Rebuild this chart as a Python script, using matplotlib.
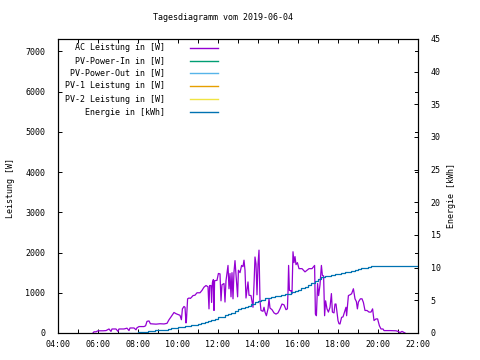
import numpy as np
import matplotlib
matplotlib.use("Agg")
import matplotlib.pyplot as plt
from matplotlib.ticker import MultipleLocator, FuncFormatter

# AC-Leistung (Stunde, Watt)
ac_time = [5.75, 5.80, 5.90, 6.00, 6.25, 6.40, 6.55, 6.65, 6.70, 6.90, 7.00, 7.05, 7.30, 7.45, 7.55, 7.60,
           7.80, 7.90, 7.95, 8.05, 8.30, 8.38, 8.45, 8.55, 8.62, 8.75, 8.90, 9.10, 9.30, 9.45, 9.55, 9.65,
           9.80, 9.90, 10.00, 10.10, 10.17, 10.22, 10.30, 10.35, 10.40, 10.42, 10.48, 10.55, 10.62, 10.68,
           10.75, 10.85, 10.95, 11.10, 11.20, 11.30, 11.40, 11.50, 11.55, 11.58, 11.65, 11.68, 11.72, 11.77,
           11.80, 11.83, 11.95, 12.02, 12.10, 12.15, 12.20, 12.30, 12.35, 12.40, 12.50, 12.55, 12.60, 12.65,
           12.70, 12.75, 12.80, 12.85, 12.90, 12.98, 13.02, 13.10, 13.18, 13.25, 13.30, 13.35, 13.40, 13.45,
           13.50, 13.55, 13.65, 13.75, 13.80, 13.85, 13.90, 13.95, 14.00, 14.05, 14.10, 14.15, 14.25, 14.30,
           14.35, 14.42, 14.50, 14.55, 14.60, 14.70, 14.80, 14.90, 15.00, 15.10, 15.20, 15.30, 15.40, 15.47,
           15.50, 15.53, 15.57, 15.65, 15.70, 15.75, 15.80, 15.85, 15.90, 15.97, 16.05, 16.20, 16.35, 16.45,
           16.55, 16.70, 16.83, 16.87, 16.92, 16.98, 17.03, 17.10, 17.17, 17.22, 17.28, 17.33, 17.38, 17.45,
           17.52, 17.60, 17.67, 17.72, 17.80, 17.85, 17.90, 18.00, 18.05, 18.10, 18.18, 18.25, 18.35, 18.40,
           18.43, 18.52, 18.60, 18.68, 18.77, 18.85, 18.92, 18.97, 19.02, 19.12, 19.20, 19.27, 19.35, 19.45,
           19.55, 19.65, 19.73, 19.80, 19.90, 19.98, 20.07, 20.15, 20.25, 20.30, 20.60, 20.90, 21.00, 21.10,
           21.20, 21.35]
ac_power = [0, 30, 30, 55, 55, 60, 100, 40, 100, 100, 40, 100, 100, 120, 60, 125,
            125, 80, 130, 160, 160, 180, 290, 300, 230, 225, 220, 230, 225, 240, 330, 400,
            510, 480, 460, 440, 330, 600, 660, 640, 250, 300, 850, 870, 860, 890,
            930, 940, 1000, 1000, 1060, 1140, 1180, 1150, 600, 1180, 1180, 760, 1250, 1330,
            560, 1300, 1310, 1480, 1470, 800, 1200, 1230, 770, 1300, 1680, 1100, 1480, 900,
            1500, 850, 1520, 1800, 1450, 900, 1560, 1500, 1680, 1650, 1810, 1560, 870, 1060,
            1270, 940, 930, 640, 1200, 1890, 1720, 950, 1700, 2060, 800, 560, 540, 640,
            520, 430, 600, 850, 620, 580, 500, 470, 500, 600, 720, 700, 580, 600,
            1020, 1680, 1060, 1050, 980, 2020, 1750, 1900, 1700, 1750, 1600, 1600, 1520, 1560,
            1600, 1600, 1680, 470, 430, 1230, 930, 1200, 1680, 1430, 1420, 430, 800, 600,
            520, 640, 980, 520, 500, 720, 720, 310, 230, 225, 390, 400, 560, 640,
            430, 930, 950, 975, 1100, 850, 780, 600, 770, 850, 850, 760, 560, 560,
            520, 520, 600, 310, 350, 350, 180, 100, 100, 60, 60, 55, 40, 10,
            40, 0]

# Energie (kWh), alle 10 Minuten ab 07:00
en_time = [7 + i / 6 for i in range(91)]
energy = [0.0, 0.0, 0.0, 0.0, 0.0, 0.0, 0.1, 0.2, 0.2, 0.3, 0.3, 0.4, 0.4, 0.5, 0.5, 0.6, 0.7, 0.8,
          0.9, 0.9, 1.0, 1.1, 1.2, 1.3, 1.4, 1.6, 1.7, 1.9, 2.0, 2.2, 2.4, 2.5, 2.7, 2.9, 3.1, 3.4,
          3.6, 3.8, 4.0, 4.2, 4.4, 4.7, 4.9, 5.1, 5.3, 5.4, 5.5, 5.6, 5.7, 5.8, 5.9, 6.0, 6.2, 6.4,
          6.6, 6.9, 7.1, 7.4, 7.7, 8.0, 8.3, 8.5, 8.7, 8.8, 8.9, 9.0, 9.1, 9.2, 9.3, 9.4, 9.5, 9.7,
          9.8, 9.9, 10.0, 10.1, 10.2, 10.3, 10.3, 10.3, 10.3, 10.3, 10.3, 10.3, 10.3, 10.3, 10.3,
          10.3, 10.3, 10.3, 10.3]

# keine Daten fuer diese Reihen
pv_in = []
pv_out = []
pv1 = []
pv2 = []

labels = ["AC Leistung in [W]", "PV-Power-In in [W]", "PV-Power-Out in [W]",
          "PV-1 Leistung in [W]", "PV-2 Leistung in [W]", "Energie in [kWh]"]
colors = ["#9400d3", "#009e73", "#56b4e9", "#e69f00", "#f0e442", "#0072b2"]

plt.rcParams['font.family'] = ['DejaVu Sans Mono']
fs = 6

fig = plt.figure(figsize=(4.8, 3.6), dpi=100)
ax = fig.add_axes([58 / 480, 1 - 333 / 360, 360 / 480, 294 / 360])
ax2 = ax.twinx()

lw = 0.9
ax.plot(ac_time, ac_power, color=colors[0], lw=lw)
ax.plot(pv_in, pv_in, color=colors[1], lw=lw)
ax.plot(pv_out, pv_out, color=colors[2], lw=lw)
ax.plot(pv1, pv1, color=colors[3], lw=lw)
ax.plot(pv2, pv2, color=colors[4], lw=lw)
ax2.plot(en_time, energy, color=colors[5], lw=lw, drawstyle='steps-post')

ax.set_xlim(4, 22)
ax.set_ylim(0, 7310)
ax2.set_ylim(0, 45)

ax.xaxis.set_major_locator(MultipleLocator(2))
ax.xaxis.set_minor_locator(MultipleLocator(1))
ax.xaxis.set_major_formatter(FuncFormatter(lambda v, p: "%02d:00" % int(round(v))))
ax.yaxis.set_major_locator(MultipleLocator(1000))
ax2.yaxis.set_major_locator(MultipleLocator(5))

ax.tick_params(axis='x', which='both', direction='in', top=True, length=3, width=0.7,
               labelsize=fs, pad=5)
ax.tick_params(axis='y', direction='in', length=3, width=0.7, labelsize=fs, pad=9)
ax2.tick_params(axis='y', direction='in', length=3, width=0.7, labelsize=fs, pad=9)
# y1 ticks mirrored on the right side
for y in ax.get_yticks():
    if 0 < y < 7310:
        ax.plot([1, 0.992], [y, y], color='black', lw=0.7, transform=ax.get_yaxis_transform(),
                clip_on=False)

for a in (ax, ax2):
    for s in a.spines.values():
        s.set_linewidth(0.8)

# legend (gnuplot style)
rows_y = [48, 61, 73, 86, 99, 112]
for lab, col, yp in zip(labels, colors, rows_y):
    ya = (333 - yp) / 294
    ax.text((165 - 58) / 360, ya, lab, transform=ax.transAxes, ha='right', va='center', fontsize=fs)
    ax.plot([(190 - 58) / 360, (218 - 58) / 360], [ya, ya], color=col, lw=1.0,
            transform=ax.transAxes)

fig.text(223 / 480, 1 - 18 / 360, "Tagesdiagramm vom 2019-06-04", ha='center', va='center', fontsize=fs)
fig.text(11 / 480, 1 - 188 / 360, "Leistung [W]", rotation=90, ha='center', va='center', fontsize=fs)
fig.text(452 / 480, 1 - 195 / 360, "Energie [kWh]", rotation=90, ha='center', va='center', fontsize=fs)

fig.savefig("out.png", dpi=100)
